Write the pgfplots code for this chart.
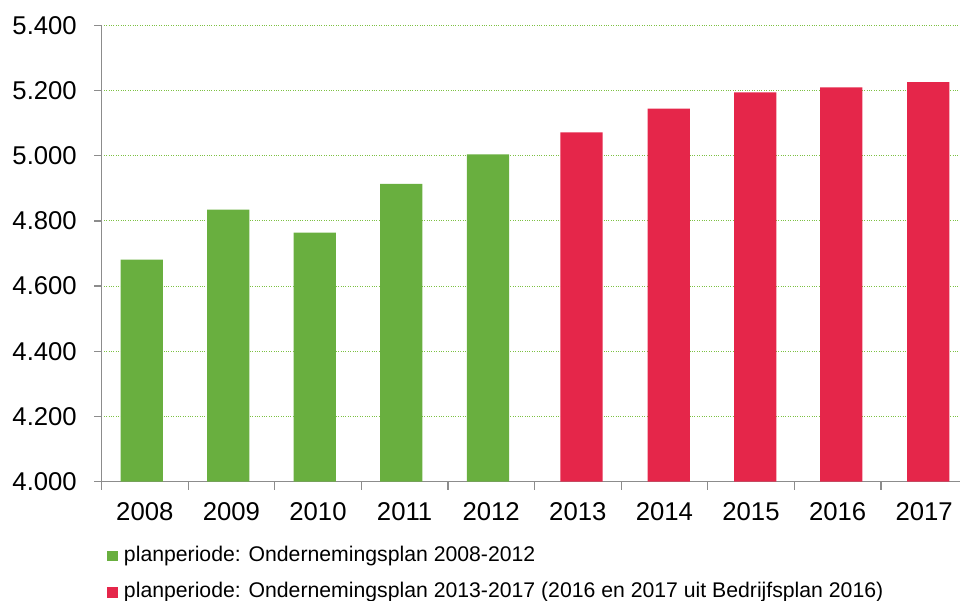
\documentclass[border=0pt]{standalone}
\usepackage{fontspec}
\setmainfont{Liberation Sans}
\usepackage{pgfplots}
\pgfplotsset{compat=1.18}
\definecolor{bargreen}{HTML}{69AF3F}
\definecolor{barred}{HTML}{E5264A}
\definecolor{gridgreen}{HTML}{7DC143}
\definecolor{axisgray}{HTML}{8C8C8C}
\begin{document}
\begin{tikzpicture}
\path[use as bounding box] (-101.5bp,-119.5bp) rectangle (858.5bp,481.5bp);
\begin{axis}[
  at={(0bp,0bp)}, anchor=south west,
  scale only axis, width=866bp, height=456bp,
  xmin=-0.5, xmax=9.5, ymin=4000, ymax=5400,
  axis x line*=bottom, axis y line*=left,
  axis line style={axisgray, line width=1.5bp},
  tick align=outside,
  ytick={4000,4200,...,5400},
  major tick length=7bp,
  every tick/.style={axisgray, line width=1.2bp},
  xtick={0,...,9},
  xticklabels={2008,2009,2010,2011,2012,2013,2014,2015,2016,2017},
  major x tick style={draw=none},
  minor xtick={-0.5,0.5,...,9.5},
  minor tick length=8bp,
  ymajorgrids,
  grid style={gridgreen, dotted, line width=0.9bp},
  /pgf/number format/.cd, 1000 sep={.}, assume math mode=true, /pgfplots/.cd,
  tick label style={font=\fontsize{25.8}{30}\selectfont, text=black},
  yticklabel style={inner sep=0pt, xshift=-17.5bp},
  xticklabel style={inner sep=0pt, yshift=-13.5bp},
  ybar, bar width=42.3bp,
  legend style={at={(axis description cs:0.0067,-0.1414)}, anchor=north west,
    draw=none, fill=none, inner sep=0pt,
    font=\fontsize{21.3}{25}\selectfont,
    cells={anchor=base west},
    nodes={inner sep=0pt, text height=15bp, text depth=5bp},
    row sep=16.5bp,
    /tikz/every odd column/.append style={column sep=6bp}},
]
\addplot[fill=bargreen, draw=none, bar shift=0pt,
  legend image code/.code={\fill[bargreen] (0bp,0bp) rectangle (10.5bp,10.5bp);}]
  coordinates {(-0.036,4681) (0.963,4835) (1.963,4764) (2.962,4914) (3.962,5004)};
\addlegendentry{planperiode: Ondernemingsplan 2008-2012}
\addplot[fill=barred, draw=none, bar shift=0pt,
  legend image code/.code={\fill[barred] (0bp,0bp) rectangle (10.5bp,10.5bp);}]
  coordinates {(5.043,5072) (6.05,5145) (7.048,5195) (8.043,5210) (9.046,5226)};
\addlegendentry{planperiode: Ondernemingsplan 2013-2017 (2016 en 2017 uit Bedrijfsplan 2016)}
\end{axis}
\end{tikzpicture}
\end{document}
